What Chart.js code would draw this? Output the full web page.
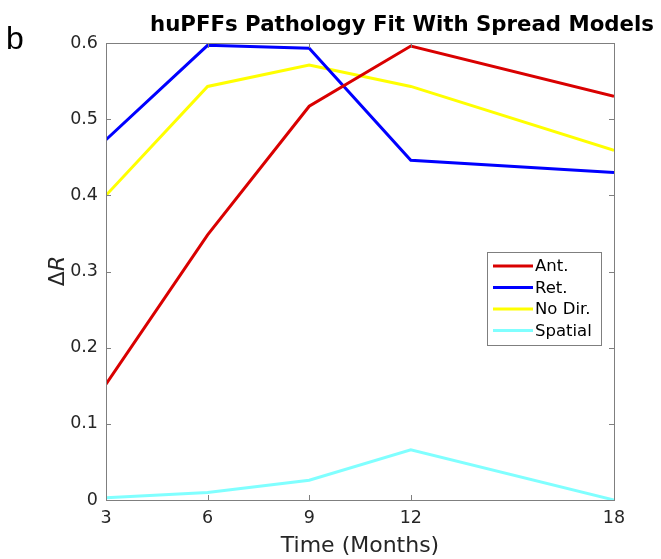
<!DOCTYPE html>
<html>
<head>
<meta charset="utf-8">
<script src="https://cdn.jsdelivr.net/npm/chart.js@4"></script>
<style>
  html, body { margin: 0; padding: 0; background: #fff; }
  #wrap { width: 661px; height: 559px; position: relative; }
</style>
</head>
<body>
<div id="wrap"><canvas id="fitChart" width="661" height="559"></canvas></div>
<script>
// Time points (months)
const months = [3, 6, 9, 12, 18];
const xTicks = [3, 6, 9, 12, 18];
const yTicks = [0, 0.1, 0.2, 0.3, 0.4, 0.5, 0.6];

// Delta R per model
const antValues = [0.152, 0.348, 0.517, 0.596, 0.530];
const retValues = [0.473, 0.597, 0.593, 0.446, 0.430];
const noDirValues = [0.400, 0.543, 0.571, 0.543, 0.459];
const spatialValues = [0.003, 0.010, 0.026, 0.066, 0.000];

const seriesNames = ['Ant.', 'Ret.', 'No Dir.', 'Spatial'];
const seriesColors = ['#d90000', '#0000ff', '#ffff00', '#80ffff'];

const axisColor = '#7f7f7f';
const textColor = '#262626';
const font = 'DejaVu Sans';

function toPoints(vals) {
    return months.map((m, i) => ({ x: m, y: vals[i] }));
}

// draws box, inward ticks, panel letter, title, y label and legend
const matlabLook = {
    id: 'matlabLook',
    afterDatasetsDraw(chart) {
        const ctx = chart.ctx;
        const a = chart.chartArea;
        const xs = chart.scales.x;
        const ys = chart.scales.y;
        ctx.save();

        // axes box
        ctx.strokeStyle = axisColor;
        ctx.lineWidth = 1;
        ctx.strokeRect(a.left + 0.5, a.top + 0.5, a.right - a.left, a.bottom - a.top);

        // inward ticks
        const tl = 5;
        ctx.beginPath();
        xTicks.forEach((t) => {
            const px = Math.round(xs.getPixelForValue(t)) + 0.5;
            ctx.moveTo(px, a.bottom); ctx.lineTo(px, a.bottom - tl);
            ctx.moveTo(px, a.top); ctx.lineTo(px, a.top + tl);
        });
        yTicks.forEach((t) => {
            const py = Math.round(ys.getPixelForValue(t)) + 0.5;
            ctx.moveTo(a.left, py); ctx.lineTo(a.left + tl, py);
            ctx.moveTo(a.right, py); ctx.lineTo(a.right - tl, py);
        });
        ctx.stroke();

        // panel letter
        ctx.fillStyle = '#000';
        ctx.font = '32px "Liberation Sans"';
        ctx.textAlign = 'left';
        ctx.textBaseline = 'alphabetic';
        ctx.fillText('b', 6, 49);

        // title
        ctx.font = 'bold 21.3px "' + font + '"';
        ctx.textAlign = 'center';
        ctx.fillText('huPFFs Pathology Fit With Spread Models', 402, 31);

        // y label: ΔR with italic R
        ctx.save();
        ctx.translate(64, 271);
        ctx.rotate(-Math.PI / 2);
        ctx.fillStyle = textColor;
        ctx.textAlign = 'left';
        ctx.font = '22px "' + font + '"';
        const dw = ctx.measureText('Δ').width;
        ctx.font = 'italic 22px "' + font + '"';
        const rw = ctx.measureText('R').width;
        const start = -(dw + rw) / 2;
        ctx.font = '22px "' + font + '"';
        ctx.fillText('Δ', start, 0);
        ctx.font = 'italic 22px "' + font + '"';
        ctx.fillText('R', start + dw, 0);
        ctx.restore();

        // legend
        const lx = 487, ly = 252, lw = 114, lh = 93;
        ctx.fillStyle = '#fff';
        ctx.fillRect(lx, ly, lw, lh);
        ctx.strokeStyle = axisColor;
        ctx.strokeRect(lx + 0.5, ly + 0.5, lw, lh);
        ctx.font = '16.5px "' + font + '"';
        ctx.textAlign = 'left';
        ctx.textBaseline = 'middle';
        chart.data.datasets.forEach((ds, i) => {
            const yy = ly + 14 + i * 21.5;
            ctx.strokeStyle = ds.borderColor;
            ctx.lineWidth = 3;
            ctx.beginPath();
            ctx.moveTo(lx + 6, yy); ctx.lineTo(lx + 46, yy);
            ctx.stroke();
            ctx.fillStyle = '#000';
            ctx.fillText(ds.label, lx + 48, yy + 1);
        });
        ctx.restore();
    }
};

const ctx = document.getElementById('fitChart').getContext('2d');
const seriesValues = [antValues, retValues, noDirValues, spatialValues];

new Chart(ctx, {
    type: 'line',
    data: {
        datasets: seriesNames.map((name, i) => ({
            label: name,
            data: toPoints(seriesValues[i]),
            borderColor: seriesColors[i],
            backgroundColor: seriesColors[i],
            borderWidth: 3,
            pointRadius: 0,
            tension: 0,
            fill: false
        }))
    },
    options: {
        responsive: false,
        animation: false,
        events: [],
        layout: { padding: { left: 0, right: 47, top: 43, bottom: 0 } },
        plugins: {
            legend: { display: false },
            title: { display: false },
            tooltip: { enabled: false }
        },
        scales: {
            x: {
                type: 'linear',
                min: 3,
                max: 18,
                afterBuildTicks: (scale) => { scale.ticks = xTicks.map((v) => ({ value: v })); },
                afterFit: (scale) => { scale.height = 59; },
                grid: { display: false, drawTicks: false },
                border: { display: false },
                ticks: {
                    color: textColor,
                    font: { family: font, size: 17.5 },
                    padding: 8,
                    maxRotation: 0
                },
                title: {
                    display: true,
                    text: 'Time (Months)',
                    color: textColor,
                    font: { family: font, size: 22 },
                    padding: { top: 0, bottom: 0 }
                }
            },
            y: {
                min: 0,
                max: 0.6,
                afterBuildTicks: (scale) => { scale.ticks = yTicks.map((v) => ({ value: v })); },
                afterFit: (scale) => { scale.width = 106; },
                grid: { display: false, drawTicks: false },
                border: { display: false },
                ticks: {
                    color: textColor,
                    font: { family: font, size: 17.5 },
                    padding: 8,
                    callback: (v) => String(Math.round(v * 10) / 10)
                }
            }
        }
    },
    plugins: [matlabLook]
});
</script>
</body>
</html>
